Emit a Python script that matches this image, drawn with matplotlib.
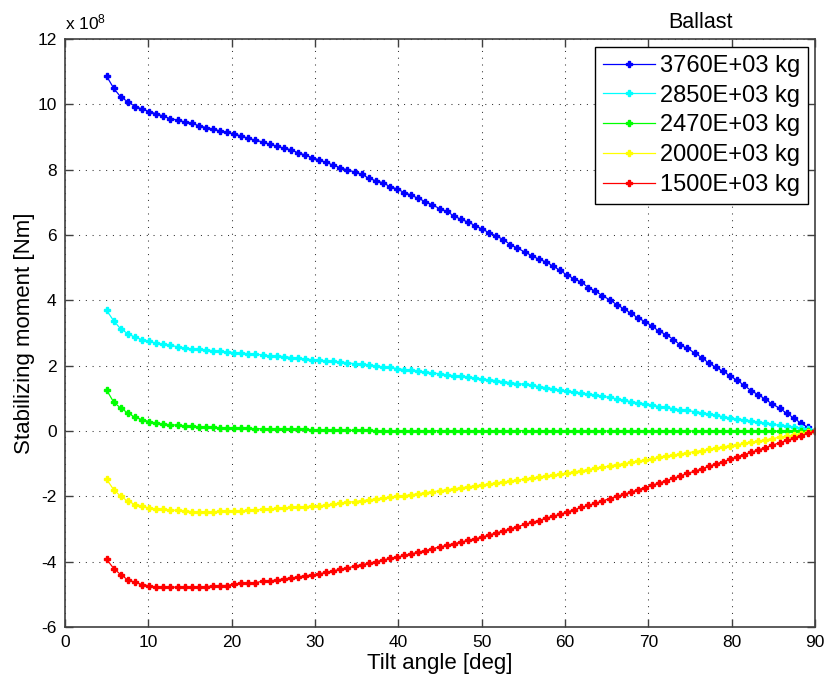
import numpy as np
import matplotlib
matplotlib.use('Agg')
import matplotlib.pyplot as plt

plt.rcParams['font.family'] = ['Liberation Sans', 'DejaVu Sans']
plt.rcParams['mathtext.fontset'] = 'custom'
plt.rcParams['mathtext.rm'] = 'Liberation Sans'
plt.rcParams['mathtext.it'] = 'Liberation Sans'
plt.rcParams['axes.unicode_minus'] = False

# tilt angle grid [deg]
tilt = np.linspace(5, 90, 101)

# stabilizing moment, in units of 1e8 Nm
m_3760 = [10.86, 10.49, 10.22, 10.08, 9.93, 9.86, 9.78, 9.71, 9.64, 9.56,
          9.52, 9.46, 9.42, 9.35, 9.29, 9.24, 9.19, 9.14, 9.09, 9.03,
          8.96, 8.90, 8.85, 8.78, 8.72, 8.66, 8.61, 8.52, 8.45, 8.37,
          8.30, 8.22, 8.14, 8.06, 7.99, 7.93, 7.86, 7.74, 7.66, 7.60,
          7.48, 7.41, 7.30, 7.22, 7.12, 7.02, 6.92, 6.81, 6.72, 6.59,
          6.48, 6.40, 6.29, 6.18, 6.07, 5.97, 5.86, 5.70, 5.60, 5.48,
          5.37, 5.26, 5.18, 5.05, 4.92, 4.77, 4.66, 4.56, 4.39, 4.28,
          4.14, 4.02, 3.87, 3.74, 3.61, 3.46, 3.35, 3.21, 3.05, 2.95,
          2.80, 2.63, 2.53, 2.39, 2.25, 2.08, 1.95, 1.83, 1.69, 1.55,
          1.40, 1.23, 1.11, 0.97, 0.82, 0.70, 0.54, 0.40, 0.24, 0.11,
          0.0]
m_2850 = [3.69, 3.37, 3.12, 2.98, 2.87, 2.80, 2.74, 2.69, 2.66, 2.62,
          2.58, 2.54, 2.51, 2.50, 2.47, 2.46, 2.44, 2.42, 2.40, 2.39,
          2.36, 2.35, 2.33, 2.30, 2.29, 2.28, 2.25, 2.22, 2.21, 2.18,
          2.16, 2.14, 2.13, 2.11, 2.09, 2.06, 2.04, 2.02, 1.99, 1.96,
          1.95, 1.91, 1.88, 1.86, 1.83, 1.80, 1.78, 1.75, 1.72, 1.69,
          1.68, 1.65, 1.61, 1.58, 1.57, 1.54, 1.51, 1.48, 1.45, 1.43,
          1.40, 1.36, 1.33, 1.29, 1.25, 1.21, 1.18, 1.16, 1.13, 1.09,
          1.06, 1.03, 0.98, 0.94, 0.90, 0.86, 0.83, 0.79, 0.75, 0.73,
          0.68, 0.65, 0.63, 0.59, 0.56, 0.52, 0.48, 0.44, 0.40, 0.37,
          0.34, 0.31, 0.27, 0.24, 0.21, 0.17, 0.15, 0.12, 0.09, 0.06,
          0.0]
m_2470 = [1.25, 0.88, 0.70, 0.55, 0.42, 0.35, 0.29, 0.24, 0.21, 0.19,
          0.18, 0.15, 0.14, 0.13, 0.12, 0.11, 0.10, 0.10, 0.10, 0.09,
          0.08, 0.07, 0.07, 0.07, 0.06, 0.06, 0.06, 0.05, 0.05, 0.04,
          0.04, 0.03, 0.03, 0.03, 0.02, 0.02, 0.02, 0.02, 0.01, 0.01,
          0.01, 0.01, 0.01, 0.01, 0.01, 0.01, 0.01, 0.01, 0.01, 0.01,
          0.01, 0.01, 0.01, 0.01, 0.01, 0.01, 0.01, 0.01, 0.01, 0.01,
          0.0, 0.0, 0.0, 0.0, 0.0, 0.0, 0.0, 0.0, 0.0, 0.0,
          0.0, 0.0, 0.0, 0.0, 0.0, 0.0, 0.0, 0.0, 0.0, 0.0,
          0.0, 0.0, 0.0, 0.0, 0.0, 0.0, 0.0, 0.0, 0.0, 0.0,
          0.0, 0.0, 0.0, 0.0, 0.0, 0.0, 0.0, 0.0, 0.0, 0.0,
          0.0]
m_2000 = [-1.48, -1.80, -2.00, -2.15, -2.25, -2.30, -2.36, -2.39, -2.40, -2.42,
          -2.43, -2.44, -2.47, -2.48, -2.48, -2.48, -2.45, -2.44, -2.44, -2.44,
          -2.43, -2.41, -2.40, -2.39, -2.37, -2.36, -2.34, -2.33, -2.32, -2.30,
          -2.29, -2.27, -2.24, -2.21, -2.18, -2.16, -2.13, -2.11, -2.08, -2.05,
          -2.03, -2.00, -1.98, -1.95, -1.92, -1.89, -1.86, -1.83, -1.80, -1.77,
          -1.74, -1.71, -1.68, -1.65, -1.62, -1.59, -1.56, -1.53, -1.50, -1.47,
          -1.44, -1.41, -1.38, -1.35, -1.32, -1.29, -1.25, -1.22, -1.18, -1.14,
          -1.11, -1.07, -1.03, -1.00, -0.96, -0.92, -0.89, -0.85, -0.81, -0.78,
          -0.74, -0.70, -0.67, -0.63, -0.60, -0.56, -0.52, -0.49, -0.45, -0.42,
          -0.38, -0.34, -0.31, -0.27, -0.23, -0.19, -0.16, -0.12, -0.08, -0.04,
          0.0]
m_1500 = [-3.93, -4.21, -4.40, -4.56, -4.63, -4.70, -4.74, -4.78, -4.78, -4.78,
          -4.78, -4.78, -4.78, -4.77, -4.77, -4.74, -4.73, -4.73, -4.68, -4.66,
          -4.66, -4.64, -4.60, -4.59, -4.56, -4.53, -4.50, -4.47, -4.43, -4.41,
          -4.37, -4.33, -4.28, -4.23, -4.19, -4.14, -4.09, -4.05, -4.00, -3.95,
          -3.90, -3.86, -3.81, -3.76, -3.71, -3.66, -3.60, -3.55, -3.50, -3.45,
          -3.40, -3.35, -3.30, -3.25, -3.18, -3.12, -3.06, -2.99, -2.93, -2.86,
          -2.80, -2.74, -2.67, -2.61, -2.55, -2.48, -2.41, -2.34, -2.28, -2.21,
          -2.14, -2.07, -2.00, -1.94, -1.87, -1.80, -1.73, -1.66, -1.59, -1.52,
          -1.45, -1.37, -1.30, -1.23, -1.16, -1.08, -1.01, -0.94, -0.87, -0.79,
          -0.72, -0.65, -0.58, -0.51, -0.43, -0.36, -0.29, -0.22, -0.14, -0.07,
          0.0]

series = [m_3760, m_2850, m_2470, m_2000, m_1500]
labels = ['3760E+03 kg', '2850E+03 kg', '2470E+03 kg', '2000E+03 kg', '1500E+03 kg']
colors = ['#0000ff', '#00ffff', '#00ff00', '#ffff00', '#ff0000']

fig = plt.figure(figsize=(8.25, 6.86), dpi=100)
ax = fig.add_axes([65/825, 1 - 627/686, 750/825, 588/686])

for vals, lab, col in zip(series, labels, colors):
    ax.plot(tilt, np.array(vals) * 1e8, '-', color=col, lw=0.9,
            marker='P', ms=4.2, mec=col, mfc=col, label=lab)

ax.set_xlim(0, 90)
ax.set_ylim(-6e8, 12e8)
ax.set_xticks(np.arange(0, 91, 10))
ax.set_yticks(np.arange(-6e8, 12.1e8, 2e8))
ax.ticklabel_format(axis='y', style='sci', scilimits=(8, 8), useMathText=False)
ax.yaxis.get_offset_text().set_visible(False)
ax.text(0, 1.012, r'x 10$^{8}$', transform=ax.transAxes, ha='left', va='bottom',
        fontsize=12.5)

ax.grid(True, color='0.2', linestyle=(0, (1, 5.5)), linewidth=0.75)
ax.tick_params(direction='in', length=6, width=1, top=True, right=True,
               labelsize=12.5, pad=6, colors='#404040', labelcolor='black')
for s in ax.spines.values():
    s.set_color('#404040')
    s.set_linewidth(1.2)

ax.set_xlabel('Tilt angle [deg]', fontsize=16, labelpad=2)
ax.set_ylabel('Stabilizing moment [Nm]', fontsize=16, labelpad=2)

leg = ax.legend(loc='upper right', bbox_to_anchor=(0.991, 0.986),
                borderaxespad=0, fancybox=False, edgecolor='black',
                fontsize=17, handlelength=2.2, handletextpad=0.25,
                labelspacing=0.33, borderpad=0.32, framealpha=1)
leg.get_frame().set_linewidth(1)
fig.text(701/825, 1 - 22/686, 'Ballast', ha='center', va='center', fontsize=15.5)

fig.savefig('out.png', dpi=100)
